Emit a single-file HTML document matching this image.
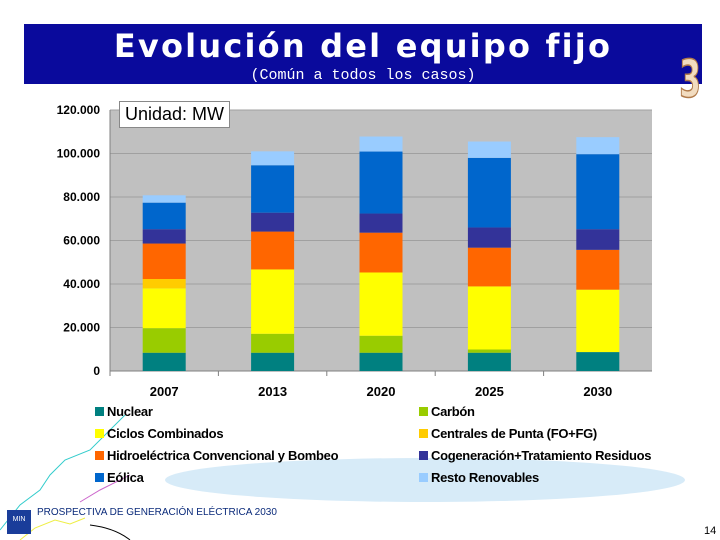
<!DOCTYPE html>
<html><head><meta charset="utf-8"><style>
body{margin:0;width:720px;height:540px;background:#fff;position:relative;overflow:hidden;font-family:"Liberation Sans",sans-serif}
.abs{position:absolute}
</style></head><body>
<div class="abs" style="left:24px;top:24px;width:678px;height:60px;background:#0a0a9c"></div>
<div class="abs" style="left:24px;top:27px;width:678px;text-align:center;color:#fff;font:bold 32px 'DejaVu Sans',sans-serif;letter-spacing:2.2px">Evolución del equipo fijo</div>
<div class="abs" style="left:24px;top:67px;width:678px;text-align:center;color:#fff;font:15px 'Liberation Mono',monospace">(Común a todos los casos)</div>
<div class="abs" style="left:672px;top:50px;font:bold 52px 'DejaVu Sans',sans-serif;color:#f2dcc0;-webkit-text-stroke:1.5px #b07a4a;transform:scaleX(0.6)">3</div>
<svg class="abs" style="left:0;top:0" width="720" height="540" id="chart">
<ellipse cx="425" cy="480" rx="260" ry="22" fill="#d7ebf8"/>
<path d="M0 530 L20 505 L40 490 L50 475 L65 460 L90 450 L120 420 L125 415" stroke="#3cc" fill="none" stroke-width="1"/>
<path d="M80 502 L100 490 L130 475" stroke="#c6c" fill="none" stroke-width="1"/>
<path d="M20 540 L35 528 L55 520 L70 524 L85 518" stroke="#ee4" fill="none" stroke-width="1"/>
<path d="M90 525 Q115 528 130 540" stroke="#000" fill="none" stroke-width="1"/>
<g id="plot"></g>
</svg>
<div class="abs" style="left:119px;top:101px;padding:2px 5px;border:1px solid #888;background:#fff;font-size:18px">Unidad: MW</div>
<div class="abs" style="left:7px;top:510px;width:24px;height:24px;background:#1a3d9a;color:#fff;font-size:7px;text-align:center;line-height:20px">MIN</div>
<div class="abs" style="left:37px;top:507px;font-size:10px;color:#0a2a7a">PROSPECTIVA DE GENERACIÓN ELÉCTRICA 2030</div>
<div class="abs" style="left:704px;top:525px;font-size:11px">14</div>
<script>
const categories=["2007","2013","2020","2025","2030"];
const seriesNames=["Nuclear","Carbón","Ciclos Combinados","Centrales de Punta (FO+FG)","Hidroeléctrica Convencional y Bombeo","Cogeneración+Tratamiento Residuos","Eólica","Resto Renovables"];
const nuclear=[8400,8400,8400,8400,8700];
const carbon=[11300,8700,7800,1500,0];
const ciclos=[18300,29600,29100,29000,28700];
const punta=[4300,0,0,0,0];
const hidro=[16300,17400,18300,17800,18300];
const cogen=[6600,8700,8800,9300,9500];
const eolica=[12200,21800,28500,32000,34500];
const resto=[3400,6400,6900,7500,7800];
const yTicks=[0,20000,40000,60000,80000,100000,120000];
const yTickLabels=["0","20.000","40.000","60.000","80.000","100.000","120.000"];
const colors=["#008080","#99cc00","#ffff00","#ffcc00","#ff6600","#333399","#0066cc","#99ccff"];
const series=[nuclear,carbon,ciclos,punta,hidro,cogen,eolica,resto];
const ns="http://www.w3.org/2000/svg";
const g=document.getElementById("plot");
const X0=110,X1=652,Y0=371,Y1=110,YMAX=120000;
const y=v=>Y0-(v/YMAX)*(Y0-Y1);
const band=(X1-X0)/categories.length;
const xc=i=>X0+band*(i+0.5);
function mk(t,a){const e=document.createElementNS(ns,t);for(const k in a)e.setAttribute(k,a[k]);g.appendChild(e);return e;}
let bg=mk("rect",{x:X0,y:Y1,width:X1-X0,height:Y0-Y1,fill:"#c0c0c0"});


yTicks.forEach((t,i)=>{
 if(t>0){let l=mk("line",{x1:X0,x2:X1,y1:y(t),y2:y(t),stroke:"#a0a0a0","stroke-width":1});
 
 }
 let tx=mk("text",{x:100,y:y(t)+4,"text-anchor":"end","font-size":12,"font-weight":"bold","font-family":"Liberation Sans"});
 tx.textContent=yTickLabels[i];
 
 
});
mk("line",{x1:X0,x2:X1,y1:Y0,y2:Y0,stroke:"#808080"});
mk("line",{x1:X0,x2:X0,y1:Y1,y2:Y0,stroke:"#808080"});
categories.forEach((c,i)=>{
 let cum=0;
 series.forEach((s,j)=>{
  const v=s[i];if(v<=0)return;
  let r=mk("rect",{x:xc(i)-21.5,y:y(cum+v),width:43,height:y(cum)-y(cum+v),fill:colors[j]});
  
  
  cum+=v;
 });
 let tx=mk("text",{x:xc(i),y:396,"text-anchor":"middle","font-size":13,"font-weight":"bold","font-family":"Liberation Sans"});
 tx.textContent=c;
 
 
 mk("line",{x1:X0+band*i,x2:X0+band*i,y1:Y0,y2:Y0+5,stroke:"#808080"});
});
seriesNames.forEach((n,j)=>{
 const lx=j%2===0?95:419, ly=416+Math.floor(j/2)*22;
 let r=mk("rect",{x:lx,y:ly-9,width:9,height:9,fill:colors[j]});
 
 
 let t=mk("text",{x:lx+12,y:ly,"font-size":13,"font-weight":"bold","font-family":"Liberation Sans","letter-spacing":"-0.3"});
 t.textContent=n;
 
 
});
</script>
</body></html>
